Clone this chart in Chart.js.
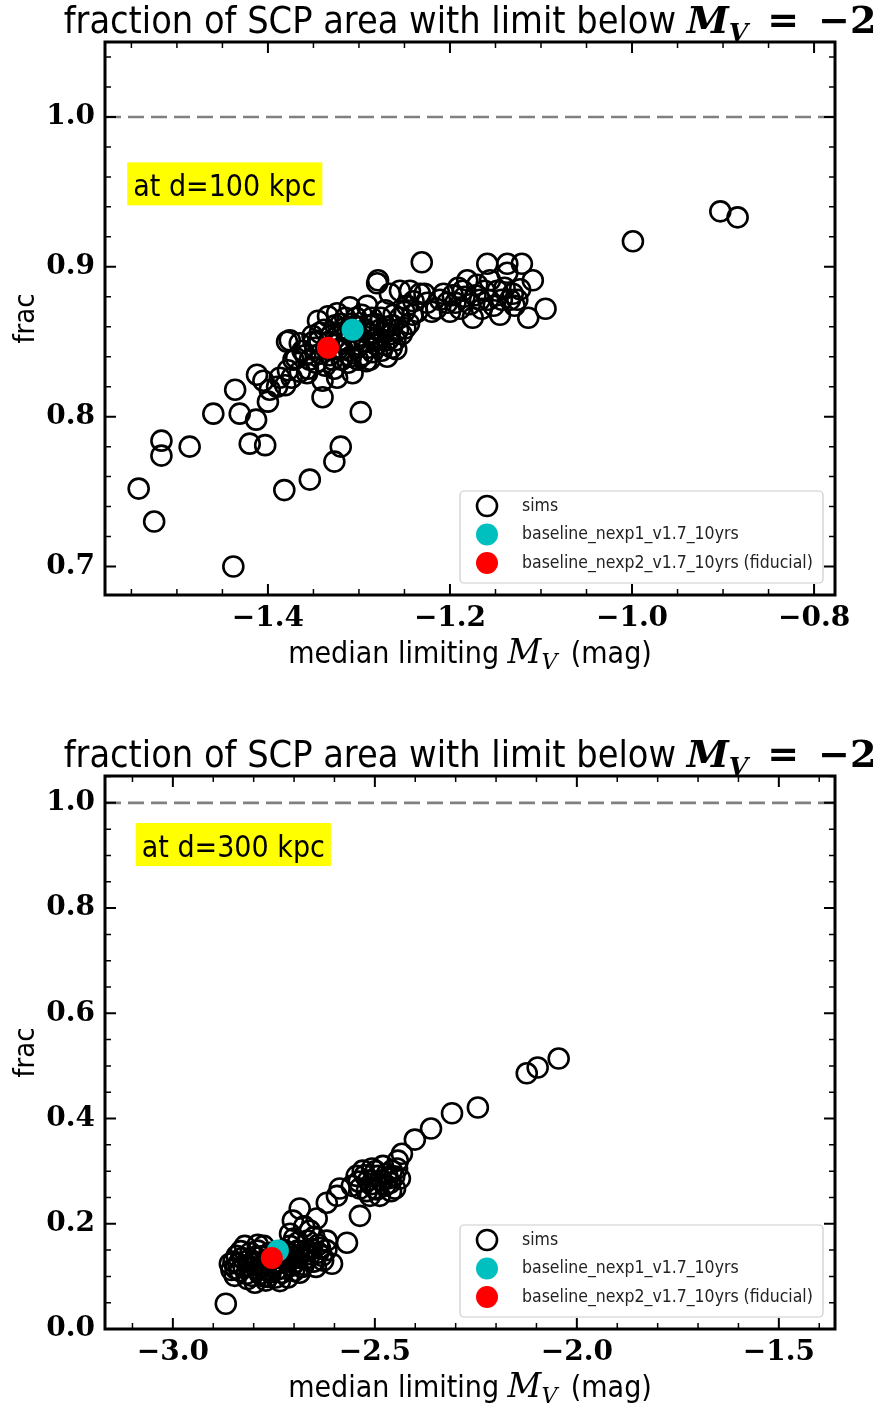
<!DOCTYPE html>
<html>
<head>
<meta charset="utf-8">
<script src="https://cdn.jsdelivr.net/npm/chart.js@4.4.1/dist/chart.umd.min.js"></script>
<style>
  html, body { margin: 0; padding: 0; background: #fff; overflow: hidden; }
  .panel { position: absolute; left: 0; width: 886px; height: 676px; }
  #p1 { top: 0; }
  #p2 { top: 734px; }
</style>
</head>
<body>
<div class="panel" id="p1"><canvas id="chartTop"></canvas></div>
<div class="panel" id="p2"><canvas id="chartBottom"></canvas></div>
<script>
// ---- data: d = 100 kpc ----
const topSims = [
  [-1.542,0.752],[-1.525,0.730],[-1.517,0.784],[-1.517,0.774],[-1.486,0.780],[-1.460,0.802],
  [-1.438,0.700],[-1.436,0.818],[-1.431,0.802],[-1.420,0.782],[-1.403,0.781],[-1.413,0.798],
  [-1.412,0.828],[-1.400,0.810],[-1.390,0.820],[-1.387,0.826],[-1.382,0.751],[-1.354,0.758],
  [-1.327,0.770],[-1.320,0.780],[-1.298,0.803],[-1.340,0.813],[-1.379,0.850],[-1.398,0.818],
  [-1.381,0.821],[-1.374,0.826],[-1.405,0.824],
  [-1.376,0.851],[-1.365,0.849],[-1.369,0.839],[-1.378,0.831],[-1.365,0.830],[-1.357,0.829],
  [-1.354,0.838],[-1.348,0.846],[-1.345,0.864],[-1.343,0.856],[-1.340,0.824],[-1.337,0.834],
  [-1.332,0.841],[-1.326,0.861],[-1.324,0.869],[-1.324,0.826],[-1.321,0.851],[-1.319,0.838],
  [-1.315,0.866],[-1.310,0.873],[-1.310,0.844],[-1.307,0.829],[-1.304,0.851],[-1.301,0.838],
  [-1.297,0.868],[-1.293,0.858],[-1.291,0.874],[-1.290,0.846],[-1.288,0.838],[-1.286,0.866],
  [-1.282,0.852],[-1.280,0.889],[-1.279,0.891],[-1.277,0.858],[-1.275,0.844],[-1.271,0.871],
  [-1.269,0.840],[-1.268,0.851],[-1.266,0.882],[-1.263,0.861],[-1.260,0.851],[-1.255,0.866],
  [-1.255,0.884],[-1.249,0.859],[-1.247,0.874],[-1.244,0.884],[-1.241,0.868],[-1.233,0.882],
  [-1.231,0.903],[-1.225,0.876],[-1.220,0.870],[-1.351,0.854],[-1.359,0.841],[-1.334,0.867],
  [-1.345,0.850],[-1.336,0.846],[-1.330,0.855],[-1.323,0.845],[-1.316,0.859],[-1.312,0.836],
  [-1.308,0.862],[-1.299,0.848],[-1.296,0.841],[-1.288,0.861],[-1.281,0.848],[-1.273,0.856],
  [-1.264,0.846],[-1.257,0.858],[-1.347,0.836],[-1.327,0.832],[-1.314,0.850],[-1.303,0.866],
  [-1.372,0.838],[-1.362,0.844],[-1.356,0.832],[-1.350,0.850],[-1.342,0.842],[-1.338,0.858],
  [-1.333,0.850],[-1.329,0.838],[-1.325,0.853],[-1.320,0.862],[-1.318,0.845],[-1.313,0.856],
  [-1.309,0.840],[-1.305,0.857],[-1.302,0.846],[-1.298,0.860],[-1.294,0.850],[-1.292,0.837],
  [-1.289,0.855],[-1.285,0.843],[-1.283,0.862],[-1.279,0.853],[-1.276,0.866],[-1.272,0.848],
  [-1.270,0.860],[-1.266,0.855],[-1.262,0.868],[-1.259,0.845],[-1.253,0.855],[-1.250,0.870],
  [-1.245,0.862],[-1.240,0.877],[-1.236,0.870],[-1.228,0.882],
  [-1.211,0.878],[-1.203,0.876],[-1.197,0.881],[-1.191,0.886],[-1.189,0.872],[-1.184,0.880],
  [-1.181,0.891],[-1.175,0.866],[-1.172,0.881],[-1.167,0.878],[-1.162,0.884],[-1.159,0.902],
  [-1.156,0.891],[-1.148,0.884],[-1.145,0.868],[-1.143,0.878],[-1.137,0.896],[-1.137,0.902],
  [-1.134,0.878],[-1.131,0.882],[-1.129,0.874],[-1.123,0.885],[-1.121,0.902],[-1.114,0.866],
  [-1.109,0.891],[-1.095,0.872],
  [-1.215,0.872],[-1.207,0.882],[-1.200,0.870],[-1.194,0.876],[-1.186,0.884],[-1.178,0.875],
  [-1.170,0.888],[-1.165,0.872],[-1.158,0.878],[-1.152,0.874],[-1.140,0.886],[-1.126,0.878],
  [-0.999,0.917],[-0.903,0.937],[-0.884,0.933]
];
const topNexp1 = [[-1.307, 0.858]];
const topNexp2 = [[-1.334, 0.846]];
const topXTicks = [-1.4, -1.2, -1.0, -0.8];
const topYTicks = [0.7, 0.8, 0.9, 1.0];

// ---- data: d = 300 kpc ----
const bottomSims = [
  [-2.869,0.048],
  [-2.859,0.124],[-2.842,0.139],[-2.834,0.110],[-2.814,0.130],[-2.804,0.101],[-2.790,0.149],
  [-2.780,0.120],[-2.765,0.099],[-2.748,0.126],[-2.730,0.107],[-2.720,0.139],[-2.705,0.120],
  [-2.691,0.149],[-2.686,0.107],[-2.673,0.133],[-2.656,0.152],[-2.646,0.118],[-2.631,0.139],
  [-2.606,0.124],[-2.822,0.158],[-2.775,0.158],[-2.797,0.088],[-2.735,0.091],[-2.847,0.101],
  [-2.760,0.145],[-2.710,0.158],[-2.666,0.168],[-2.636,0.154],[-2.619,0.168],[-2.569,0.164],
  [-2.825,0.118],[-2.795,0.137],[-2.770,0.112],[-2.742,0.140],[-2.715,0.128],[-2.695,0.135],
  [-2.680,0.118],[-2.660,0.142],[-2.850,0.128],[-2.808,0.145],[-2.785,0.105],[-2.755,0.118],
  [-2.855,0.112],[-2.838,0.124],[-2.828,0.135],[-2.818,0.105],[-2.812,0.120],[-2.800,0.128],
  [-2.792,0.113],[-2.782,0.138],[-2.776,0.100],[-2.768,0.130],[-2.758,0.108],[-2.750,0.140],
  [-2.744,0.112],[-2.738,0.125],[-2.728,0.135],[-2.722,0.115],[-2.712,0.145],[-2.700,0.110],
  [-2.698,0.127],[-2.688,0.140],[-2.676,0.122],[-2.668,0.150],[-2.652,0.128],[-2.640,0.145],
  [-2.628,0.130],[-2.620,0.150],[-2.640,0.160],[-2.690,0.165],[-2.725,0.150],[-2.790,0.160],
  [-2.832,0.148],[-2.845,0.115],[-2.815,0.095],[-2.770,0.092],[-2.745,0.098],[-2.715,0.098],
  [-2.700,0.172],[-2.675,0.195],[-2.650,0.175],
  [-2.710,0.181],[-2.661,0.187],[-2.703,0.206],[-2.644,0.210],[-2.686,0.229],[-2.619,0.240],
  [-2.594,0.253],[-2.587,0.267],[-2.537,0.215],
  [-2.545,0.291],[-2.530,0.301],[-2.517,0.282],[-2.507,0.305],[-2.500,0.267],[-2.493,0.291],
  [-2.480,0.310],[-2.475,0.272],[-2.468,0.286],[-2.458,0.301],[-2.450,0.267],[-2.443,0.320],
  [-2.438,0.286],[-2.433,0.333],[-2.537,0.267],[-2.557,0.272],[-2.512,0.253],[-2.488,0.253],
  [-2.540,0.280],[-2.525,0.292],[-2.510,0.275],[-2.498,0.300],[-2.485,0.282],[-2.470,0.295],
  [-2.462,0.278],[-2.452,0.290],[-2.445,0.305],[-2.495,0.265],[-2.520,0.262],[-2.460,0.262],
  [-2.401,0.360],[-2.361,0.381],[-2.309,0.410],[-2.245,0.421],[-2.124,0.486],[-2.097,0.497],
  [-2.045,0.514]
];
const bottomNexp1 = [[-2.740, 0.149]];
const bottomNexp2 = [[-2.755, 0.135]];
const bottomXTicks = [-3.0, -2.5, -2.0, -1.5];
const bottomYTicks = [0.0, 0.2, 0.4, 0.6, 0.8, 1.0];

const refFrac = 1.0;
const legendLabels = ['sims', 'baseline_nexp1_v1.7_10yrs', 'baseline_nexp2_v1.7_10yrs (fiducial)'];

const SANS = '"DejaVu Sans Condensed", "Liberation Sans Narrow", "DejaVu Sans", sans-serif';
const SERIF = '"DejaVu Serif", serif';

function fmtTick(v) {
  return (v < 0 ? '\u2212' : '') + Math.abs(v).toFixed(1);
}

function drawRich(ctx, parts, x, y) {
  let total = 0;
  parts.forEach(p => { ctx.font = p.f; p.w = ctx.measureText(p.t).width; total += p.w; });
  let cx = x - total / 2;
  ctx.textAlign = 'left';
  ctx.textBaseline = 'alphabetic';
  parts.forEach(p => { ctx.font = p.f; ctx.fillText(p.t, cx, y + (p.dy || 0)); cx += p.w; });
}

function drawTicks(ctx, scale, area, step, majorStep, horizontal) {
  const ratio = Math.round(majorStep / step);
  const start = Math.ceil(scale.min / step - 1e-6);
  const end = Math.floor(scale.max / step + 1e-6);
  for (let i = start; i <= end; i++) {
    const major = i % ratio === 0;
    const len = major ? 11 : 6;
    const p = scale.getPixelForValue(i * step);
    ctx.lineWidth = major ? 2 : 1.5;
    ctx.beginPath();
    if (horizontal) {
      ctx.moveTo(p, area.bottom); ctx.lineTo(p, area.bottom - len);
      ctx.moveTo(p, area.top); ctx.lineTo(p, area.top + len);
    } else {
      ctx.moveTo(area.left, p); ctx.lineTo(area.left + len, p);
      ctx.moveTo(area.right, p); ctx.lineTo(area.right - len, p);
    }
    ctx.stroke();
  }
}

const decorPlugin = {
  id: 'decor',
  afterDatasetsDraw(chart, args, opts) {
    const { ctx, chartArea: a, scales } = chart;
    ctx.save();
    ctx.fillStyle = '#000';
    ctx.strokeStyle = '#000';

    // ticks on all sides, pointing in
    drawTicks(ctx, scales.x, a, opts.minorX, opts.majorX, true);
    drawTicks(ctx, scales.y, a, opts.minorY, opts.majorY, false);

    // frame
    ctx.lineWidth = 3;
    ctx.strokeRect(a.left, a.top, a.right - a.left, a.bottom - a.top);

    // yellow distance label
    const lx = scales.x.getPixelForValue(opts.labelAt[0]);
    const ly = scales.y.getPixelForValue(opts.labelAt[1]);
    ctx.font = `30px ${SANS}`;
    const lw = ctx.measureText(opts.label).width;
    ctx.fillStyle = '#ffff00';
    ctx.fillRect(lx - 6, ly - 34, lw + 12, 43);
    ctx.fillStyle = '#000';
    ctx.textAlign = 'left';
    ctx.textBaseline = 'alphabetic';
    ctx.fillText(opts.label, lx, ly);

    // legend, lower right
    const lgW = 363, lgH = 92;
    const gx = a.right - 12 - lgW, gy = a.bottom - 12 - lgH;
    ctx.fillStyle = 'rgba(255,255,255,0.85)';
    ctx.strokeStyle = '#cccccc';
    ctx.lineWidth = 1.2;
    ctx.beginPath();
    ctx.roundRect(gx, gy, lgW, lgH, 4);
    ctx.fill();
    ctx.stroke();
    const sets = chart.data.datasets;
    [0, 1, 2].forEach(i => {
      const ds = sets[i];
      const ry = gy + 15 + i * 28.5;
      ctx.beginPath();
      ctx.arc(gx + 27, ry, ds.pointRadius, 0, Math.PI * 2);
      if (ds.pointBorderWidth > 0) {
        ctx.lineWidth = ds.pointBorderWidth;
        ctx.strokeStyle = ds.pointBorderColor;
        ctx.stroke();
      } else {
        ctx.fillStyle = ds.pointBackgroundColor;
        ctx.fill();
      }
      ctx.fillStyle = '#222';
      ctx.font = `17.5px ${SANS}`;
      ctx.textBaseline = 'middle';
      ctx.fillText(legendLabels[i], gx + 62, ry);
    });

    // title
    ctx.fillStyle = '#000';
    const cxm = (a.left + a.right) / 2;
    drawRich(ctx, [
      { t: 'fraction of SCP area with limit below ', f: `37.5px ${SANS}` },
      { t: 'M', f: `bold italic 38px ${SERIF}` },
      { t: 'V', f: `bold italic 25px ${SERIF}`, dy: 8 },
      { t: '\u2002=\u2002\u22122', f: `bold 38px ${SERIF}` }
    ], cxm, a.top - 9);

    // x axis title
    drawRich(ctx, [
      { t: 'median limiting ', f: `30px ${SANS}` },
      { t: 'M', f: `italic 33px ${SERIF}` },
      { t: 'V', f: `italic 22px ${SERIF}`, dy: 6 },
      { t: '\u2002(mag)', f: `30px ${SANS}` }
    ], cxm, a.bottom + 68);

    // y axis title
    ctx.save();
    ctx.translate(26, (a.top + a.bottom) / 2);
    ctx.rotate(-Math.PI / 2);
    ctx.font = `29px ${SANS}`;
    ctx.textAlign = 'center';
    ctx.textBaseline = 'middle';
    ctx.fillText('frac', 0, 0);
    ctx.restore();

    ctx.restore();
  }
};

function makeChart(id, sims, nexp1, nexp2, xr, yr, xTicks, yTicks, deco) {
  const tickFont = { family: SERIF, size: 28, weight: 'bold' };
  return new Chart(document.getElementById(id), {
    type: 'scatter',
    data: {
      datasets: [
        { data: sims.map(p => ({ x: p[0], y: p[1] })), pointRadius: 10, pointBorderWidth: 2.6,
          pointBorderColor: '#000', pointBackgroundColor: 'rgba(0,0,0,0)', order: 2 },
        { data: nexp1.map(p => ({ x: p[0], y: p[1] })), pointRadius: 11, pointBorderWidth: 0,
          pointBackgroundColor: '#00bfbf', order: 1 },
        { data: nexp2.map(p => ({ x: p[0], y: p[1] })), pointRadius: 11, pointBorderWidth: 0,
          pointBackgroundColor: '#ff0000', order: 0 },
        { data: [{ x: xr[0], y: refFrac }, { x: xr[1], y: refFrac }], showLine: true, pointRadius: 0,
          borderColor: '#808080', borderWidth: 2.6, borderDash: [16, 7], order: 3 }
      ]
    },
    options: {
      responsive: true,
      maintainAspectRatio: false,
      animation: false,
      events: [],
      layout: { padding: { top: 42, right: 51, left: 0, bottom: 0 } },
      plugins: {
        legend: { display: false },
        tooltip: { enabled: false },
        decor: deco
      },
      scales: {
        x: {
          type: 'linear', min: xr[0], max: xr[1],
          grid: { display: false, drawTicks: false }, border: { display: false },
          ticks: { font: tickFont, color: '#000', padding: 7, maxRotation: 0, autoSkip: false, callback: fmtTick },
          afterBuildTicks: s => { s.ticks = xTicks.map(v => ({ value: v })); },
          afterFit: s => { s.height = 81; }
        },
        y: {
          type: 'linear', min: yr[0], max: yr[1],
          grid: { display: false, drawTicks: false }, border: { display: false },
          ticks: { font: tickFont, color: '#000', padding: 10, autoSkip: false, callback: fmtTick },
          afterBuildTicks: s => { s.ticks = yTicks.map(v => ({ value: v })); },
          afterFit: s => { s.width = 105; }
        }
      }
    },
    plugins: [decorPlugin]
  });
}

makeChart('chartTop', topSims, topNexp1, topNexp2, [-1.579, -0.777], [0.681, 1.05],
  topXTicks, topYTicks,
  { minorX: 0.05, majorX: 0.2, minorY: 0.02, majorY: 0.1, label: 'at d=100 kpc', labelAt: [-1.548, 0.947] });

makeChart('chartBottom', bottomSims, bottomNexp1, bottomNexp2, [-3.168, -1.361], [0.0, 1.051],
  bottomXTicks, bottomYTicks,
  { minorX: 0.1, majorX: 0.5, minorY: 0.05, majorY: 0.2, label: 'at d=300 kpc', labelAt: [-3.077, 0.897] });
</script>
</body>
</html>
